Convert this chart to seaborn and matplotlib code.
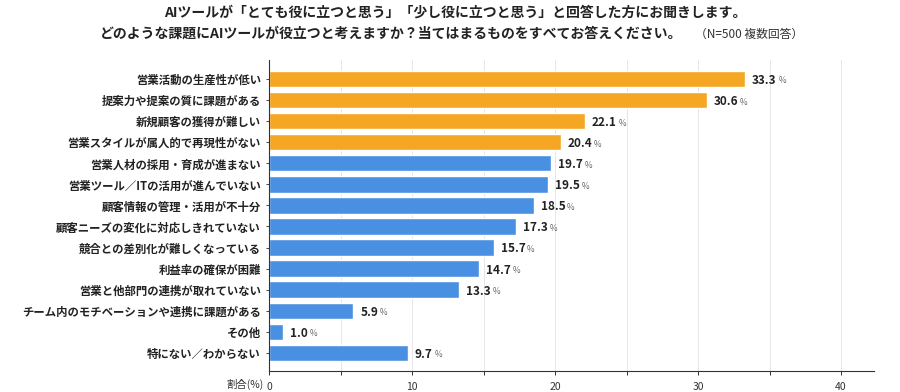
import pandas as pd
import numpy as np
import matplotlib.pyplot as plt
import seaborn as sns
from matplotlib.ticker import MultipleLocator

categories = ['営業活動の生産性が低い', '提案力や提案の質に課題がある', '新規顧客の獲得が難しい',
              '営業スタイルが属人的で再現性がない', '営業人材の採用・育成が進まない',
              '営業ツール／ITの活用が進んでいない', '顧客情報の管理・活用が不十分',
              '顧客ニーズの変化に対応しきれていない', '競合との差別化が難しくなっている',
              '利益率の確保が困難', '営業と他部門の連携が取れていない',
              'チーム内のモチベーションや連携に課題がある', 'その他', '特にない／わからない']
values = [33.3, 30.6, 22.1, 20.4, 19.7, 19.5, 18.5, 17.3, 15.7, 14.7, 13.3, 5.9, 1.0, 9.7]
groups = ['top'] * 4 + ['other'] * 10

df = pd.DataFrame({'item': categories, 'pct': values, 'grp': groups})

sns.set_style('white')
plt.rcParams['font.family'] = ['Noto Sans CJK JP', 'DejaVu Sans']

fig = plt.figure(figsize=(9, 3.92), dpi=100)
ax = fig.add_axes([0.299, 0.054, 0.672, 0.793])

sns.barplot(data=df, x='pct', y='item', hue='grp', dodge=False,
            palette={'top': '#F5A623', 'other': '#4A90E2'},
            width=0.78, legend=False, ax=ax, saturation=1)

for i, v in enumerate(values):
    t = ax.annotate(f'{v:.1f}', (v, i), xytext=(5, -1), textcoords='offset points',
                    va='center', ha='left', fontsize=8.5, fontweight='bold', color='#222222')
    ax.annotate(' %', xycoords=t, xy=(1, 0.45), va='center', ha='left',
                fontsize=6, color='#666666')

ax.set_xlim(0, 42.3)
ax.set_ylim(13.85, -0.9)
ax.xaxis.set_major_locator(MultipleLocator(10))
ax.xaxis.set_minor_locator(MultipleLocator(5))
ax.grid(axis='x', which='both', color='#e6e6e6', linewidth=0.7)
ax.set_axisbelow(True)
for s in ['top', 'right']:
    ax.spines[s].set_visible(False)
ax.spines['left'].set_color('#333333')
ax.spines['bottom'].set_color('#333333')
ax.spines['left'].set_linewidth(0.8)
ax.spines['bottom'].set_linewidth(0.8)
ax.tick_params(axis='x', which='both', bottom=True, length=3, width=0.7,
               labelsize=7.5, colors='#333333', pad=5)
ax.tick_params(axis='y', left=True, length=2, width=0.6, labelsize=8.2, pad=4)
for lbl in ax.get_yticklabels():
    lbl.set_fontweight('bold')
    lbl.set_color('#222222')
ax.set_xlabel('')
ax.set_ylabel('')
fig.text(0.272, 0.018, '割合(%)', ha='center', va='center', fontsize=7.5, color='#333333')

fig.text(0.506, 0.967, 'AIツールが「とても役に立つと思う」「少し役に立つと思う」と回答した方にお聞きします。',
         ha='center', va='center', fontsize=10, fontweight='bold', color='#222222')
fig.text(0.111, 0.915, 'どのような課題にAIツールが役立つと考えますか？当てはまるものをすべてお答えください。',
         ha='left', va='center', fontsize=10, fontweight='bold', color='#222222')
fig.text(0.772, 0.913, '（N=500 複数回答）', ha='left', va='center', fontsize=8.5, color='#333333')

plt.savefig('out.png', dpi=100)
